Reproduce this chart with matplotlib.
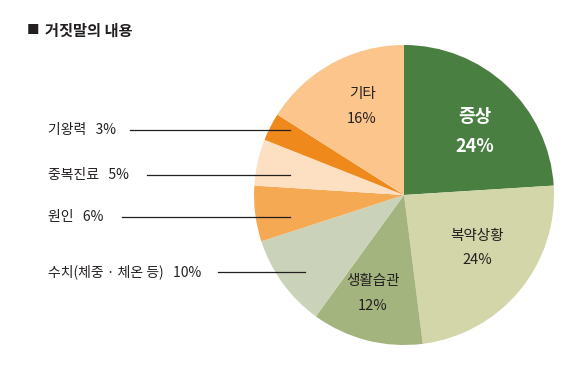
import matplotlib
matplotlib.use("Agg")
import matplotlib.pyplot as plt

plt.rcParams['font.family'] = ['Noto Sans CJK KR', 'DejaVu Sans']

categories = ['증상', '복약상황', '생활습관', '수치(체중 · 체온 등)', '원인', '중복진료', '기왕력', '기타']
values = [24, 24, 12, 10, 6, 5, 3, 16]
colors = ['#4a7f42', '#d3d6a9', '#a3b47f', '#cad3b9', '#f5a953', '#fde0c2', '#f0891c', '#fbc58b']

W, H = 584, 370
fig = plt.figure(figsize=(W / 100, H / 100), dpi=100)
ax = fig.add_axes([0, 0, 1, 1])

cx, cy, r = 404, H - 195, 150
ax.pie(values, colors=colors, startangle=90, counterclock=False,
       center=(cx, cy), radius=r, frame=True,
       wedgeprops=dict(linewidth=0))
ax.set_xlim(0, W)
ax.set_ylim(0, H)
ax.axis('off')

# title
fig.text(27 / W, 1 - 31 / H, '■', fontsize=9, color='#231f20', va='center', ha='left')
fig.text(45 / W, 1 - 31 / H, '거짓말의 내용', fontsize=11, fontweight='bold',
         color='#231f20', va='center', ha='left')

txt = '#231f20'
# inside labels
ax.text(475, H - 116, '증상', color='white', fontsize=13, fontweight='bold', ha='center', va='center')
ax.text(475, H - 146, f'{values[0]}%', color='white', fontsize=13, fontweight='bold', ha='center', va='center')
ax.text(477, H - 236, '복약상황', color=txt, fontsize=10.5, ha='center', va='center')
ax.text(477, H - 260, f'{values[1]}%', color=txt, fontsize=10.5, ha='center', va='center')
ax.text(373, H - 281, '생활습관', color=txt, fontsize=10.5, ha='center', va='center')
ax.text(373, H - 306, f'{values[2]}%', color=txt, fontsize=10.5, ha='center', va='center')
ax.text(362, H - 94, '기타', color=txt, fontsize=10.5, ha='center', va='center')
ax.text(362, H - 119, f'{values[7]}%', color=txt, fontsize=10.5, ha='center', va='center')

# outside labels with leader lines
outside = [
    (6, 130, 130, 290),
    (5, 175, 147, 290),
    (4, 217, 122, 290),
    (3, 272, 218, 305),
]
for idx, py, x0, x1 in outside:
    ax.text(48, H - py, f'{categories[idx]}   {values[idx]}%', color=txt,
            fontsize=10, ha='left', va='center')
    ax.plot([x0, x1], [H - py, H - py], color=txt, linewidth=0.9)

fig.savefig('out.png', dpi=100)
